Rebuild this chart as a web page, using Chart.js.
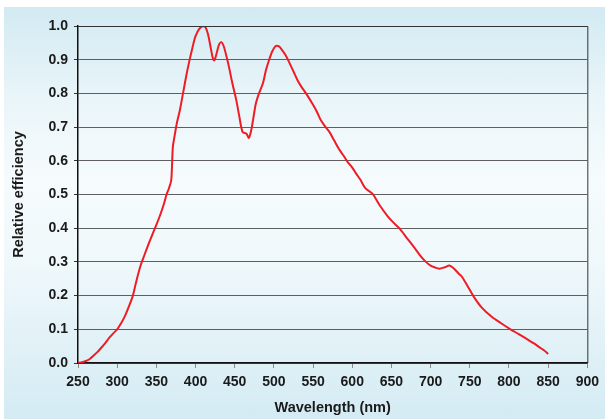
<!DOCTYPE html>
<html lang="en">
<head>
    <meta charset="UTF-8">
    <title>Relative efficiency</title>
    <script src="https://cdn.jsdelivr.net/npm/chart.js"></script>
    <style>
        body {
            margin: 0;
            background-color: #ffffff;
            font-family: Arial, "Liberation Sans", sans-serif;
        }
        .backdrop {
            position: absolute;
            left: 4px;
            top: 7px;
            width: 601px;
            height: 412px;
            background: linear-gradient(to bottom, #d2eaf2 0%, #e9f5f9 22%, #f6fbfd 42%, #eff8fb 62%, #d4ebf3 100%);
        }
        canvas {
            position: absolute;
            left: 0;
            top: 0;
        }
    </style>
</head>
<body>
    <div class="backdrop"></div>
    <canvas id="effChart" width="605" height="419"></canvas>

    <script>
        // wavelength (nm) and relative efficiency
        const wavelengths = [
            250, 255, 260, 265, 270, 275, 280, 285, 290, 295,
            300, 305, 310, 315, 320, 325, 330, 335, 340, 345,
            350, 355, 360, 363, 366, 369, 371, 373, 376, 380,
            384, 388, 392, 396, 400, 405, 410, 413, 416, 419,
            422, 424, 427, 430, 433, 436, 440, 443, 447, 452,
            456, 460, 465, 468, 471, 474, 477, 481, 486, 490,
            494, 498, 502, 506, 510, 515, 520, 525, 530, 535,
            541, 549, 555, 560, 566, 571, 577, 583, 589, 594,
            600, 605, 610, 617, 626, 635, 645, 652, 660, 670,
            680, 687, 694, 700, 705, 711, 718, 724, 730, 736,
            740, 748, 755, 765, 778, 790, 802, 813, 825, 832,
            838, 845, 850
        ];
        const efficiency = [
            0.000, 0.002, 0.006, 0.012, 0.022, 0.033, 0.046, 0.060, 0.075, 0.088,
            0.100, 0.118, 0.140, 0.168, 0.200, 0.248, 0.290, 0.322, 0.353, 0.382,
            0.410, 0.440, 0.475, 0.500, 0.518, 0.543, 0.640, 0.670, 0.710, 0.750,
            0.800, 0.850, 0.895, 0.935, 0.970, 0.992, 1.000, 0.995, 0.975, 0.940,
            0.905, 0.898, 0.920, 0.945, 0.952, 0.940, 0.905, 0.875, 0.830, 0.780,
            0.730, 0.686, 0.680, 0.668, 0.690, 0.730, 0.770, 0.800, 0.830, 0.870,
            0.900, 0.925, 0.940, 0.940, 0.930, 0.913, 0.890, 0.865, 0.840, 0.820,
            0.800, 0.770, 0.745, 0.720, 0.700, 0.685, 0.660, 0.635, 0.615, 0.597,
            0.580, 0.562, 0.545, 0.518, 0.502, 0.468, 0.436, 0.418, 0.400, 0.370,
            0.340, 0.318, 0.300, 0.289, 0.284, 0.280, 0.284, 0.289, 0.280, 0.265,
            0.256, 0.225, 0.197, 0.165, 0.137, 0.118, 0.100, 0.085, 0.068, 0.058,
            0.048, 0.037, 0.027
        ];
        const xTicks = [250, 300, 350, 400, 450, 500, 550, 600, 650, 700, 750, 800, 850, 900];
        const yTicks = [0, 0.1, 0.2, 0.3, 0.4, 0.5, 0.6, 0.7, 0.8, 0.9, 1.0];

        const points = wavelengths.map((w, i) => ({ x: w, y: efficiency[i] }));

        // frame round the plot area (right edge has no axis of its own)
        const frame = {
            id: 'frame',
            afterDraw(chart) {
                const { ctx, chartArea: a } = chart;
                ctx.save();
                ctx.strokeStyle = '#333333';
                ctx.lineWidth = 1;
                ctx.beginPath();
                ctx.moveTo(a.left, a.top + 0.5);
                ctx.lineTo(a.right + 0.5, a.top + 0.5);
                ctx.lineTo(a.right + 0.5, a.bottom);
                ctx.stroke();
                ctx.restore();
            }
        };

        const tickFont = { family: 'Arial, "Liberation Sans", sans-serif', size: 14, weight: 'bold' };
        const titleFont = { family: 'Arial, "Liberation Sans", sans-serif', size: 14.5, weight: 'bold' };

        new Chart(document.getElementById('effChart').getContext('2d'), {
            type: 'line',
            data: {
                datasets: [{
                    data: points,
                    borderColor: '#ee1c25',
                    borderWidth: 2,
                    pointRadius: 0,
                    tension: 0.3,
                    fill: false
                }]
            },
            options: {
                responsive: false,
                animation: false,
                layout: { padding: { top: 26, right: 16, left: 0, bottom: 0 } },
                plugins: {
                    legend: { display: false },
                    tooltip: { enabled: false }
                },
                scales: {
                    x: {
                        type: 'linear',
                        min: 250,
                        max: 900,
                        afterBuildTicks: s => { s.ticks = xTicks.map(v => ({ value: v })); },
                        afterFit: s => { s.height = 56; },
                        grid: {
                            drawOnChartArea: false,
                            drawTicks: true,
                            tickLength: 5,
                            tickColor: '#8a8a8a'
                        },
                        border: { color: '#111111', width: 1.5 },
                        ticks: {
                            color: '#1a1a1a',
                            font: tickFont,
                            padding: 6,
                            maxRotation: 0,
                            autoSkip: false
                        },
                        title: {
                            display: true,
                            text: 'Wavelength (nm)',
                            color: '#1a1a1a',
                            font: titleFont,
                            padding: { top: 0, bottom: 2 }
                        }
                    },
                    y: {
                        min: 0,
                        max: 1,
                        afterBuildTicks: s => { s.ticks = yTicks.map(v => ({ value: v })); },
                        afterFit: s => { s.width = 78; },
                        grid: {
                            color: '#5e5e5e',
                            lineWidth: 1,
                            drawTicks: true,
                            tickLength: 4,
                            tickColor: '#333333'
                        },
                        border: { color: '#111111', width: 1.5 },
                        ticks: {
                            color: '#1a1a1a',
                            font: tickFont,
                            padding: 6,
                            callback: v => v.toFixed(1)
                        },
                        title: {
                            display: true,
                            text: 'Relative efficiency',
                            color: '#1a1a1a',
                            font: titleFont,
                            padding: { top: 10, bottom: 0 }
                        }
                    }
                }
            },
            plugins: [frame]
        });
    </script>
</body>
</html>
